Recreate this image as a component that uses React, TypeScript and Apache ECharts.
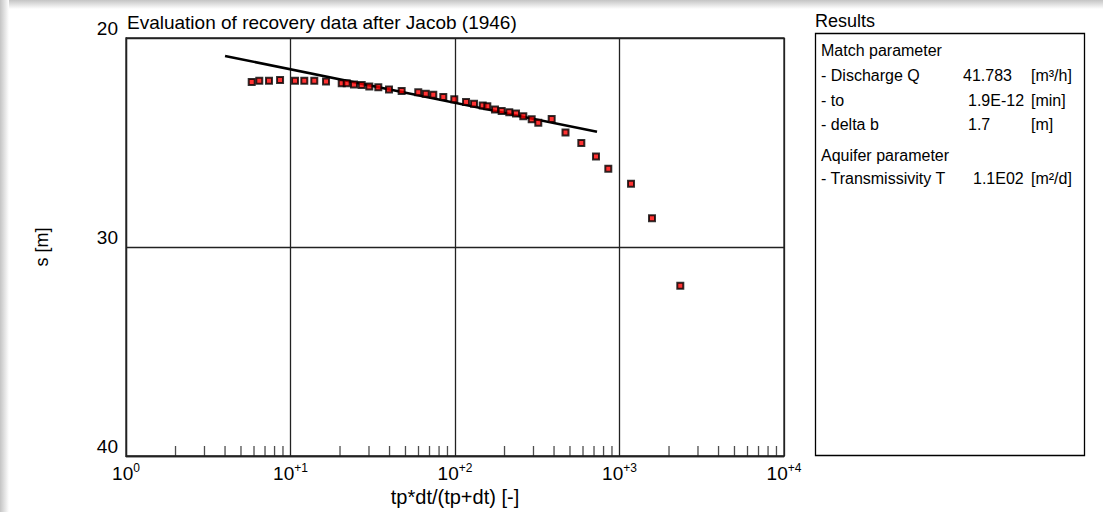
import React, { useEffect, useRef } from "react";
import * as echarts from "echarts";

// Measured recovery data: x = tp*dt/(tp+dt) [-], s = drawdown [m]
const xValues = [
  5.81, 6.46, 7.4, 8.64, 10.65, 12.13, 13.95, 16.44, 20.48, 21.96, 24.32, 27.09,
  30.13, 34.18, 39.7, 47.4, 59.8, 66.4, 73.8, 84.9, 99.0, 116.7, 130.5, 147.4,
  157.2, 175.1, 192.2, 213.8, 234.9, 260.2, 292.6, 320.9, 387.0, 469.6, 586,
  719.6, 855, 1175, 1576, 2342,
];
const sValues = [
  22.1, 22.05, 22.05, 22.01, 22.05, 22.05, 22.05, 22.08, 22.16, 22.16, 22.22,
  22.25, 22.32, 22.36, 22.46, 22.53, 22.6, 22.67, 22.72, 22.82, 22.93, 23.06,
  23.15, 23.23, 23.26, 23.42, 23.49, 23.55, 23.61, 23.74, 23.89, 24.05, 23.88,
  24.52, 25.02, 25.67, 26.25, 26.97, 28.62, 31.86,
];

// Jacob straight-line fit (end points)
const fitX = [4.0, 730];
const fitS = [20.86, 24.49];

// Axis settings
const xMin = 1;
const xMax = 10000;
const yMin = 20;
const yMax = 40;
const yInterval = 10;

// Minor (log) tick multipliers and decades
const minorMultipliers = [2, 3, 4, 5, 6, 7, 8, 9];
const decades = [1, 10, 100, 1000];

// Results panel
const resultLabels = ["- Discharge Q", "- to", "- delta b", "- Transmissivity T"];
const resultValues = ["41.783", "1.9E-12", "1.7", "1.1E02"];
const resultUnits = ["[m³/h]", "[min]", "[m]", "[m²/d]"];

const FONT = "'Liberation Sans', Arial, sans-serif";
const GRID_COLOR = "#222";

export default function App() {
  const ref = useRef<HTMLDivElement>(null);

  useEffect(() => {
    if (!ref.current) return;
    const chart = echarts.init(ref.current, undefined, { renderer: "svg" });

    const minorTicks: number[][] = [];
    decades.forEach((d) => minorMultipliers.forEach((m) => minorTicks.push([d * m, yMax])));

    const txt = (x: number, y: number, text: string, size = 16) => ({
      type: "text",
      x,
      y,
      silent: true,
      style: { text, fill: "#000", font: `${size}px ${FONT}`, textVerticalAlign: "middle" },
    });

    const rowY = [75, 100, 124, 178];
    const valX = [963, 968, 968, 973];
    const panel: any[] = [
      txt(815, 21, "Results", 18),
      {
        type: "rect",
        shape: { x: 815.5, y: 33.5, width: 269, height: 422 },
        style: { fill: "#fff", stroke: "#000", lineWidth: 1.3 },
        silent: true,
      },
      txt(821, 50, "Match parameter"),
      txt(821, 155, "Aquifer parameter"),
    ];
    resultLabels.forEach((l, i) => {
      panel.push(txt(821, rowY[i], l));
      panel.push(txt(valX[i], rowY[i], resultValues[i]));
      panel.push(txt(1031, rowY[i], resultUnits[i]));
    });

    const option: any = {
      animation: false,
      backgroundColor: "#fff",
      textStyle: { fontFamily: FONT },
      grid: {
        left: 126,
        right: 319,
        top: 38,
        bottom: 56,
        show: true,
        containLabel: false,
        outerBoundsMode: "none",
        borderColor: GRID_COLOR,
        borderWidth: 1.3,
        backgroundColor: "#fff",
      },
      graphic: [
        {
          type: "rect",
          shape: { x: 0, y: 0, width: 1103, height: 9 },
          style: {
            fill: new echarts.graphic.LinearGradient(0, 0, 0, 1, [
              { offset: 0, color: "#c4c4c4" },
              { offset: 1, color: "#ffffff" },
            ]),
          },
          silent: true,
          z: -1,
        },
        {
          type: "rect",
          shape: { x: 0, y: 0, width: 9, height: 512 },
          style: {
            fill: new echarts.graphic.LinearGradient(0, 0, 1, 0, [
              { offset: 0, color: "#c4c4c4" },
              { offset: 1, color: "#ffffff" },
            ]),
          },
          silent: true,
          z: -1,
        },
        txt(127, 22, "Evaluation of recovery data after Jacob (1946)", 19),
        ...panel,
      ],
      xAxis: {
        type: "log",
        min: xMin,
        max: xMax,
        logBase: 10,
        name: "tp*dt/(tp+dt) [-]",
        nameLocation: "middle",
        nameGap: 30,
        nameTextStyle: { color: "#000", fontSize: 20, fontFamily: FONT },
        axisLine: { show: true, lineStyle: { color: GRID_COLOR, width: 1.3 } },
        axisTick: { show: false },
        splitLine: { show: true, lineStyle: { color: GRID_COLOR, width: 1.3 } },
        axisLabel: {
          margin: 6,
          color: "#000",
          formatter: (v: number) => {
            const e = Math.round(Math.log10(v));
            return `{b|10}{s|${e === 0 ? "0" : "+" + e}}`;
          },
          rich: {
            b: { fontSize: 19, fontFamily: FONT, color: "#000", lineHeight: 22 },
            s: { fontSize: 12, fontFamily: FONT, color: "#000", lineHeight: 14, verticalAlign: "top" },
          },
        },
      },
      yAxis: {
        type: "value",
        inverse: true,
        min: yMin,
        max: yMax,
        interval: yInterval,
        name: "s [m]",
        nameLocation: "middle",
        nameRotate: 90,
        nameGap: 75,
        nameTextStyle: { color: "#000", fontSize: 18, fontFamily: FONT },
        axisLine: { show: true, lineStyle: { color: GRID_COLOR, width: 1.3 } },
        axisTick: { show: false },
        splitLine: { show: true, lineStyle: { color: GRID_COLOR, width: 1.3 } },
        axisLabel: {
          color: "#000",
          fontSize: 19,
          fontFamily: FONT,
          margin: 8,
          verticalAlign: "bottom",
          lineHeight: 19,
        },
      },
      series: [
        {
          type: "scatter",
          data: minorTicks,
          symbol: "rect",
          symbolSize: [1.3, 10],
          symbolOffset: [0, -5],
          itemStyle: { color: GRID_COLOR },
          silent: true,
          clip: false,
          z: 1,
        },
        {
          type: "line",
          data: fitX.map((x, i) => [x, fitS[i]]),
          showSymbol: false,
          symbol: "none",
          lineStyle: { color: "#000", width: 2.5 },
          clip: false,
          z: 2,
        },
        {
          type: "scatter",
          data: xValues.map((x, i) => [x, sValues[i]]),
          symbol: "rect",
          symbolSize: 6,
          itemStyle: { color: "#ff0000", borderColor: "#000", borderWidth: 2 },
          z: 3,
        },
      ],
    };

    chart.setOption(option);
    return () => chart.dispose();
  }, []);

  return (
    <div
      ref={ref}
      style={{ position: "fixed", left: 0, top: 0, width: 1103, height: 512, background: "#fff" }}
    />
  );
}
